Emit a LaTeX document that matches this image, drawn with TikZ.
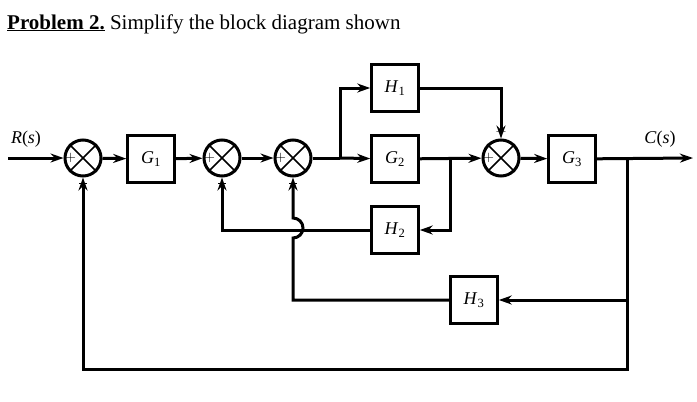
\documentclass[tikz,border=0pt]{standalone}
\usepackage{fontspec}
\setmainfont{Liberation Serif}
\usetikzlibrary{arrows.meta}
\begin{document}
\begin{tikzpicture}[x=1pt,y=-1pt,
  line/.style={line width=3pt},
  arr/.style={line,-{Stealth[length=13pt,width=9pt]}},
  blk/.style={draw,line width=2.6pt,minimum width=47pt,minimum height=47pt,inner sep=0pt,font=\fontsize{18}{18}\selectfont},
  sum/.style={draw,circle,line width=3pt,minimum size=36pt,inner sep=0pt},
  sg/.style={font=\fontsize{14}{14}\selectfont,inner sep=0pt}]
\useasboundingbox (0,0) rectangle (697,402);
\node[anchor=base west,inner sep=0pt,font=\fontsize{21}{21}\selectfont] (title) at (7,29) {\textbf{\underline{Problem 2.}} Simplify the block diagram shown};
\coordinate (in) at (8,158);
\node[sum] (s1) at (83,158) {};
\node[blk] (g1) at (151,159) {\textit{G}\textsubscript{1}};
\node[sum] (s2) at (222,158) {};
\node[sum] (s3) at (293,158) {};
\node[blk] (h1) at (395,88) {\textit{H}\textsubscript{1}};
\node[blk] (g2) at (395,159) {\textit{G}\textsubscript{2}};
\node[blk] (h2) at (395,230) {\textit{H}\textsubscript{2}};
\node[blk] (h3) at (474,300) {\textit{H}\textsubscript{3}};
\node[sum] (s4) at (501,158) {};
\node[blk] (g3) at (572,159) {\textit{G}\textsubscript{3}};
\coordinate (out) at (693,158);
\node[font=\fontsize{18}{18}\selectfont] (rl) at (26,139) {\textit{R}(\textit{s})};
\node[font=\fontsize{18}{18}\selectfont] (cl) at (660,139) {\textit{C}(\textit{s})};
\foreach \s in {s1,s2,s3,s4}{
  \draw[line width=1.6pt] (\s.north west) -- (\s.south east) (\s.north east) -- (\s.south west);
  \node[sg] at ([xshift=7pt]\s.west) {$+$};
}
\foreach \s in {s1,s2,s3}{\draw[line width=1.8pt] ([xshift=-4pt,yshift=-6pt]\s.south) -- ([xshift=4pt,yshift=-6pt]\s.south);}
\node[sg] at ([yshift=7pt]s4.north) {$+$};
\draw[arr] (in) -- (s1);
\draw[arr] (s1) -- (g1);
\draw[arr] (g1) -- (s2);
\draw[arr] (s2) -- (s3);
\coordinate (b1) at (340,158);
\draw[line] (s3) -- (b1);
\draw[arr] (b1) |- (h1);
\draw[arr] (b1) -- (g2);
\draw[arr] (h1.east) -| (s4.north);
\draw[arr] (g2) -- (s4);
\coordinate (b2) at (450,158);
\draw[arr] (b2) |- (h2.east);
\draw[arr] (s4) -- (g3);
\draw[arr] (g3) -- (out);
\coordinate (b3) at (627,158);
\draw[arr] (b3) |- (h3.east);
\draw[arr] (b3) |- (83,369) -- (s1.south);
\draw[arr] (h2.west) -| (s2.south);
\draw[arr] (h3.west) -| (293,238) arc[start angle=90,end angle=-90,radius=10] -- (s3.south);
\end{tikzpicture}
\end{document}
